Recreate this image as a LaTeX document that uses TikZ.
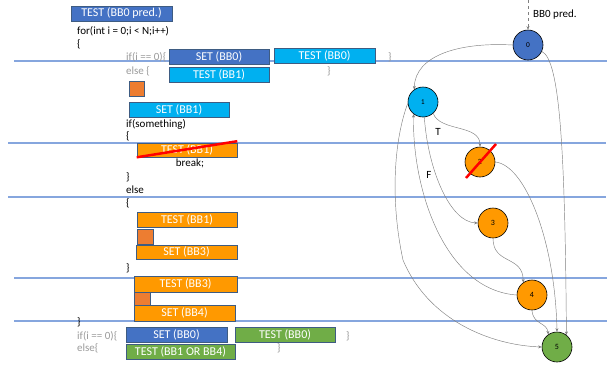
\documentclass[tikz,border=0pt]{standalone}
\usepackage{fontspec}
\setmainfont{Carlito}
\usetikzlibrary{arrows.meta}
\definecolor{dblue}{HTML}{4472C4}
\definecolor{cyanc}{HTML}{00B0F0}
\definecolor{orangec}{HTML}{FF9900}
\definecolor{sqc}{HTML}{ED7D31}
\definecolor{greenc}{HTML}{70AD47}
\definecolor{bordc}{HTML}{3E5C82}
\definecolor{hl}{HTML}{86A6DE}
\definecolor{gtext}{HTML}{9A9A9A}
\definecolor{edgec}{HTML}{808080}
\tikzset{
 hline/.style={draw=hl, line width=1.2pt},
 cbox/.style={rectangle, draw=bordc, line width=0.6pt, inner sep=0pt, minimum height=15pt, minimum width=100pt, text=white, font=\fontsize{12}{12}\selectfont},
 code/.style={anchor=west, inner sep=0pt, font=\fontsize{11}{11}\selectfont},
 gcode/.style={code, text=gtext},
 sqbox/.style={rectangle, draw=bordc, fill=sqc, line width=0.6pt, inner sep=0pt},
 gnode/.style={circle, draw=black, line width=0.6pt, minimum size=30pt, inner sep=0pt, font=\fontsize{8}{8}\selectfont},
 edge/.style={draw=edgec, line width=0.45pt, -{Stealth[length=3.5pt,width=3pt]}},
 elab/.style={font=\fontsize{11}{11}\selectfont, inner sep=0pt}
}
\begin{document}
\begin{tikzpicture}[x=1pt,y=-1pt]
\useasboundingbox (0,0) rectangle (616,365);
% horizontal lines
\draw[hline] (14,61) -- (607,61);
\draw[hline] (8,143) -- (606,143);
\draw[hline] (8,197) -- (606,197);
\draw[hline] (14,278) -- (607,278);
\draw[hline] (14,321) -- (607,321);
% code
\node[cbox, fill=dblue, minimum width=101pt] (b0p) at (121.5,13.5) {TEST (BB0 pred.)};
\node[code] (c1) at (77,31) {for(int i = 0;i < N;i++)};
\node[code] (c2) at (77,44) {\{};
\node[gcode] (c3) at (126,57) {if(i == 0)\{};
\node[cbox, fill=dblue] (s0a) at (219,56.5) {SET (BB0)};
\node[cbox, fill=cyanc, minimum width=101pt] (t0a) at (324.5,55.5) {TEST (BB0)};
\node[gcode] (c4) at (388,57) {\}};
\node[gcode] (c5) at (126,71) {else \{};
\node[cbox, fill=cyanc] (t1a) at (219,74.5) {TEST (BB1)};
\node[gcode] (c6) at (327,71) {\}};
\node[sqbox, minimum width=15pt, minimum height=15pt] (q1) at (136.5,88.5) {};
\node[cbox, fill=cyanc] (s1) at (179,109.5) {SET (BB1)};
\node[code] (c7) at (126,124) {if(something)};
\node[code] (c8) at (126,136) {\{};
\node[cbox, fill=orangec, minimum height=14pt] (t1x) at (187,150) {TEST (BB1)};
\draw[red, line width=2.5pt] (t1x.south west) -- ([yshift=1.5pt]t1x.north east);
\node[code, anchor=center] (c9) at (190,163) {break;};
\node[code] (c10) at (126,177) {\}};
\node[code] (c11) at (126,190) {else};
\node[code] (c12) at (126,203) {\{};
\node[cbox, fill=orangec] (t1b) at (187,219.5) {TEST (BB1)};
\node[sqbox, minimum width=16pt, minimum height=15pt] (q2) at (145,236.5) {};
\node[cbox, fill=orangec, minimum width=101pt, minimum height=14pt] (s3) at (186.5,252) {SET (BB3)};
\node[code] (c13) at (126,268) {\}};
\node[cbox, fill=orangec, minimum width=103pt, minimum height=16pt] (t3) at (185.5,284) {TEST (BB3)};
\node[sqbox, minimum width=16pt, minimum height=13pt] (q3) at (142,298.5) {};
\node[cbox, fill=orangec, minimum width=101pt, minimum height=16pt] (s4) at (184.5,313) {SET (BB4)};
\node[code] (c14) at (77,322) {\}};
\node[gcode] (c15) at (77,336) {if(i == 0)\{};
\node[gcode] (c16) at (77,348) {else\{};
\node[cbox, fill=dblue, minimum width=101pt] (s0b) at (176.5,334.5) {SET (BB0)};
\node[cbox, fill=greenc] (t0b) at (285,334.5) {TEST (BB0)};
\node[gcode] (c17) at (346,336) {\}};
\node[cbox, fill=greenc, minimum width=109pt] (t14) at (180.5,351.5) {TEST (BB1 OR BB4)};
\node[gcode] (c18) at (277,348) {\}};
% graph
\node[gnode, fill=dblue] (n0) at (528,45) {\ttfamily 0};
\node[gnode, fill=cyanc] (n1) at (423,102) {\ttfamily 1};
\node[gnode, fill=orangec] (n2) at (480,162) {2};
\node[gnode, fill=orangec] (n3) at (493,223) {3};
\node[gnode, fill=orangec] (n4) at (532,295) {4};
\node[gnode, fill=greenc] (n5) at (557,347) {5};
\draw[red, line width=2.5pt] (466,178) -- (496,144);
\coordinate (src) at (528,0);
\draw[edge, dashed] (src) -- (n0.north);
\node[elab, anchor=west] (lp) at (533,15) {BB0 pred.};
\draw[edge] (n0.180) .. controls (460,42) and (415,55) .. (n1.125);
\draw[edge] (n1.-48) .. controls (440,132) and (480,124) .. (n2.90);
\node[elab] (lT) at (438,132) {T};
\draw[edge] (n2.0) .. controls (525,165) and (555,240) .. (n5.90);
\draw[edge] (n0.-25) .. controls (560,60) and (565,150) .. (n5.52);
\draw[edge] (n1.185) .. controls (394,140) and (390,200) .. (403,260) .. controls (428,320) and (490,345) .. (n5.180);
\draw[edge] (n4.180) .. controls (445,290) and (412,190) .. (n1.232);
\draw[edge] (n1.275) .. controls (428,170) and (450,222) .. (n3.180);
\node[elab] (lF) at (429,175) {F};
\draw[edge] (n3.270) .. controls (493,265) and (523,255) .. (n4.125);
\draw[edge] (n4.270) .. controls (533,325) and (547,322) .. (n5.125);
\end{tikzpicture}
\end{document}
